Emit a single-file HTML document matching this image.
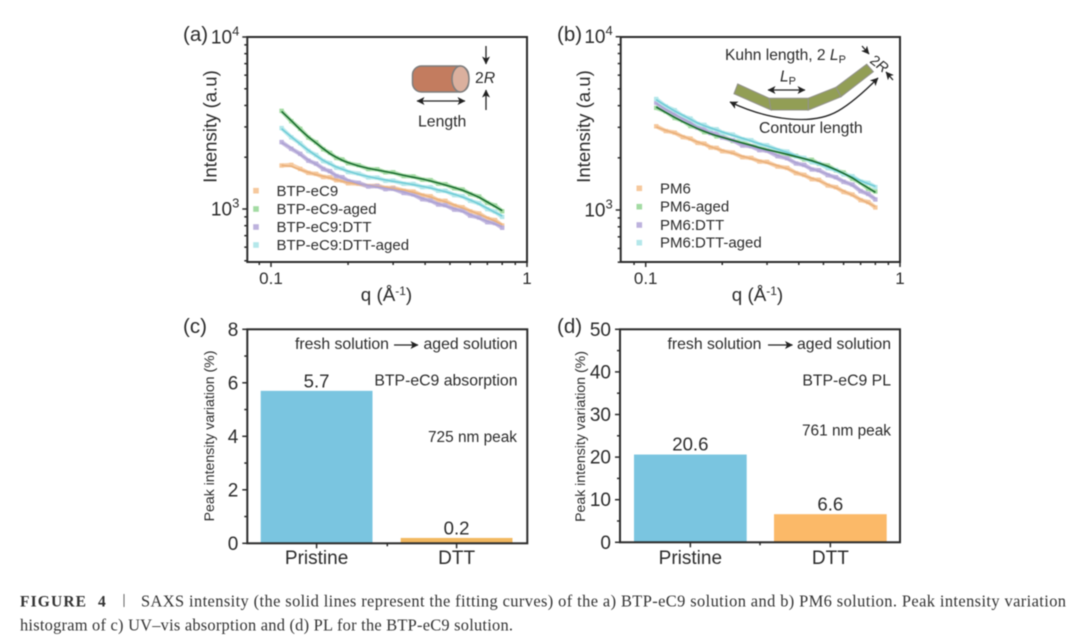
<!DOCTYPE html>
<html lang="en">
<head>
<meta charset="utf-8">
<title>SAXS intensity and peak intensity variation</title>
<style>
html,body{margin:0;padding:0;background:#fff;width:1080px;height:640px;overflow:hidden}
svg{display:block;filter:blur(.45px)}
text{font-family:"Liberation Sans",Arial,sans-serif;fill:#2b2b2b}
.cap{font-family:"Liberation Serif","Times New Roman",serif;font-size:16.4px;fill:#333}
</style>
</head>
<body>
<svg id="figure" width="1080" height="640" viewBox="0 0 1080 640" xmlns="http://www.w3.org/2000/svg">
<defs>
<marker id="ah" markerWidth="9" markerHeight="8" refX="7.5" refY="4" orient="auto-start-reverse" markerUnits="userSpaceOnUse">
<path d="M0,0 L8,4 L0,8 L2,4 Z" fill="#222"/>
</marker>
</defs>
<rect width="1080" height="640" fill="#fff"/>

<g id="panelA">
<text x="183" y="41" font-size="20.5">(a)</text>
<text transform="translate(216.5,126.5) rotate(-90)" text-anchor="middle" font-size="18.6">Intensity (a.u)</text>
<text x="386.5" y="301" text-anchor="middle" font-size="18.8">q (Å<tspan dy="-6" font-size="12">-1</tspan><tspan dy="6">)</tspan></text>
<g font-size="15">
<text x="276.5" y="196">BTP-eC9</text>
<text x="276.5" y="214">BTP-eC9-aged</text>
<text x="276.5" y="232">BTP-eC9:DTT</text>
<text x="276.5" y="250">BTP-eC9:DTT-aged</text>
</g>
<g>
<rect x="412.5" y="66" width="56" height="26" rx="9" fill="#c37c5f" stroke="#7d7d7d" stroke-width="1.5"/>
<ellipse cx="460.5" cy="79" rx="8.5" ry="13" fill="#dbb09e" stroke="#7d7d7d" stroke-width="1.5"/>
<line x1="486" y1="46" x2="486" y2="64" stroke="#222" stroke-width="1.3" marker-end="url(#ah)"/>
<line x1="486" y1="110" x2="486" y2="90" stroke="#222" stroke-width="1.3" marker-end="url(#ah)"/>
<line x1="417" y1="101" x2="465" y2="101" stroke="#222" stroke-width="1.3" marker-start="url(#ah)" marker-end="url(#ah)"/>
<text x="475" y="83" font-size="15.8">2<tspan font-style="italic">R</tspan></text>
<text x="418" y="126.5" font-size="15.8">Length</text>
</g>
</g>

<g id="panelB">
<text x="557" y="41" font-size="20.5">(b)</text>
<text transform="translate(590,126.5) rotate(-90)" text-anchor="middle" font-size="18.6">Intensity (a.u)</text>
<text x="757.5" y="301" text-anchor="middle" font-size="18.8">q (Å<tspan dy="-6" font-size="12">-1</tspan><tspan dy="6">)</tspan></text>
<g font-size="15">
<text x="660" y="193.5">PM6</text>
<text x="660" y="211.5">PM6-aged</text>
<text x="660" y="230">PM6:DTT</text>
<text x="660" y="247.5">PM6:DTT-aged</text>
</g>
<g>
<g fill="#929e55" stroke="#93938a" stroke-width="1.1">
<polygon points="737.7,84 769,98.3 771,110 734,93.7"/>
<polygon points="769,98.3 808.3,98.3 808.3,110 771,110"/>
<polygon points="808.3,98.3 836,87.3 841,96.7 808.3,110"/>
<polygon points="836,87.3 866.7,64.3 873.3,71.7 841,96.7"/>
</g>
<line x1="768" y1="90" x2="805" y2="90" stroke="#222" stroke-width="1.3" marker-start="url(#ah)" marker-end="url(#ah)"/>
<path d="M730,102 C768,120 812,126 838,111 C852,103 866,90 878,78" fill="none" stroke="#222" stroke-width="1.3" marker-start="url(#ah)" marker-end="url(#ah)"/>
<line x1="862" y1="46" x2="869" y2="54" stroke="#222" stroke-width="1.3" marker-end="url(#ah)"/>
<line x1="893" y1="80" x2="886" y2="72" stroke="#222" stroke-width="1.3" marker-end="url(#ah)"/>
<text x="725" y="60" font-size="15.6">Kuhn length, 2 <tspan font-style="italic">L</tspan><tspan dy="3" font-size="11">P</tspan></text>
<text x="780" y="81.5" font-size="15.5"><tspan font-style="italic">L</tspan><tspan dy="3" font-size="11">P</tspan></text>
<text x="759" y="133" font-size="15.8">Contour length</text>
<text transform="translate(869,62) rotate(38)" font-size="14.5">2<tspan font-style="italic">R</tspan></text>
</g>
</g>

<g id="panelC">
<text x="183" y="333" font-size="20.5">(c)</text>
<text transform="translate(214,436) rotate(-90)" text-anchor="middle" font-size="14.1">Peak intensity variation (%)</text>
<text x="295" y="349" font-size="15.8">fresh solution</text>
<line x1="394" y1="345" x2="418" y2="345" stroke="#222" stroke-width="1.3" marker-end="url(#ah)"/>
<text x="517.5" y="349" text-anchor="end" font-size="15.8">aged solution</text>
<text x="517.5" y="385.5" text-anchor="end" font-size="15.8">BTP-eC9 absorption</text>
<text x="517" y="442" text-anchor="end" font-size="15.4">725 nm peak</text>
</g>

<g id="panelD">
<text x="557" y="333" font-size="20.5">(d)</text>
<text transform="translate(585,436.5) rotate(-90)" text-anchor="middle" font-size="14.1">Peak intensity variation (%)</text>
<text x="667.5" y="349" font-size="15.8">fresh solution</text>
<line x1="768" y1="345" x2="792.5" y2="345" stroke="#222" stroke-width="1.3" marker-end="url(#ah)"/>
<text x="891" y="349" text-anchor="end" font-size="15.8">aged solution</text>
<text x="891" y="385.5" text-anchor="end" font-size="15.8">BTP-eC9 PL</text>
<text x="891" y="435.5" text-anchor="end" font-size="15.4">761 nm peak</text>
</g>

<g>
<text class="cap" x="20" y="606.5" font-weight="bold" style="font-size:15.5px" textLength="66" lengthAdjust="spacing">FIGURE</text>
<text class="cap" x="98" y="606.5" font-weight="bold" style="font-size:15.5px">4</text>
<line x1="124" y1="594" x2="124" y2="607" stroke="#666" stroke-width="1"/>
<text class="cap" x="141" y="606.5" textLength="925" lengthAdjust="spacing">SAXS intensity (the solid lines represent the fitting curves) of the a) BTP-eC9 solution and b) PM6 solution. Peak intensity variation</text>
<text class="cap" x="20" y="630.5" textLength="493" lengthAdjust="spacing">histogram of c) UV–vis absorption and (d) PL for the BTP-eC9 solution.</text>
</g>
</svg>

<script>
const qValues = [0.11,0.12,0.13,0.14,0.15,0.16,0.17,0.18,0.19,0.2,0.22,0.24,0.26,0.28,0.3,0.33,0.36,0.39,0.42,0.45,0.48,0.52,0.56,0.6,0.65,0.7,0.75,0.8];

const btpPoints = [1790,1805,1710,1622,1600,1535,1528,1470,1462,1410,1402,1360,1368,1325,1330,1278,1262,1200,1186,1122,1115,1045,1024,968,942,880,862,802];
const btpFit = [1794,1770,1693,1634,1583,1549,1514,1481,1448,1423,1391,1373,1354,1337,1319,1290,1250,1211,1174,1133,1103,1055,1013,978,931,890,852,811];
const btpAgedPoints = [3720,3240,2925,2600,2440,2225,2120,1980,1940,1845,1795,1708,1702,1635,1635,1556,1545,1482,1472,1404,1393,1320,1298,1222,1182,1088,1048,970];
const btpAgedFit = [3696,3262,2893,2622,2419,2242,2097,1997,1918,1860,1778,1723,1685,1649,1619,1569,1528,1494,1455,1416,1379,1331,1284,1233,1169,1098,1036,978];
const btpDttPoints = [2450,2240,2092,1910,1835,1708,1658,1555,1530,1452,1418,1352,1358,1305,1310,1240,1215,1140,1120,1062,1053,992,980,916,892,838,828,778];
const btpDttFit = [2430,2263,2070,1927,1818,1723,1641,1569,1514,1468,1404,1367,1342,1319,1296,1255,1201,1153,1108,1074,1041,1004,969,927,882,848,818,789];
const btpDttAgedPoints = [2955,2610,2410,2175,2060,1900,1845,1738,1718,1640,1606,1526,1522,1460,1462,1402,1398,1340,1338,1276,1274,1204,1186,1116,1080,998,966,900];
const btpDttAgedFit = [2931,2633,2387,2194,2042,1918,1826,1755,1701,1656,1590,1542,1507,1474,1448,1416,1385,1354,1325,1290,1261,1217,1174,1128,1069,1009,956,911];

const pm6Points = [3040,2855,2795,2635,2582,2440,2415,2295,2282,2185,2145,2018,1998,1905,1895,1782,1750,1632,1594,1506,1492,1385,1353,1272,1228,1140,1110,1034];
const pm6Fit = [3013,2881,2769,2661,2556,2468,2392,2320,2259,2209,2123,2040,1978,1926,1875,1802,1732,1649,1578,1523,1476,1400,1339,1287,1215,1152,1098,1045];
const pm6AgedPoints = [3885,3700,3395,3270,3050,2980,2815,2790,2660,2655,2500,2462,2338,2315,2208,2185,2075,2054,1958,1948,1848,1806,1692,1645,1515,1440,1326,1278];
const pm6AgedFit = [3928,3659,3424,3233,3080,2946,2843,2757,2685,2626,2523,2435,2361,2289,2229,2161,2095,2031,1978,1926,1867,1786,1709,1627,1530,1425,1339,1265];
const pm6DttPoints = [4165,3770,3585,3330,3208,2980,2925,2775,2748,2620,2526,2356,2332,2215,2202,2045,1989,1855,1820,1714,1696,1589,1545,1454,1402,1285,1238,1150];
const pm6DttFit = [4125,3809,3548,3365,3175,3013,2894,2806,2720,2649,2501,2382,2308,2239,2180,2067,1969,1875,1802,1732,1679,1606,1530,1470,1388,1299,1226,1163];
const pm6DttAgedPoints = [4370,3960,3765,3480,3370,3140,3098,2940,2924,2788,2724,2562,2527,2388,2362,2215,2173,2036,1998,1888,1860,1744,1703,1604,1566,1460,1433,1355];
const pm6DttAgedFit = [4329,3999,3726,3517,3336,3175,3066,2972,2894,2818,2696,2591,2501,2413,2339,2239,2151,2058,1978,1909,1842,1763,1686,1621,1550,1476,1419,1369];

const logXMajorTicks = [0.1,1];
const logXMinorTicks = [0.09,0.2,0.3,0.4,0.5,0.6,0.7,0.8,0.9];
const logYMajorTicks = [1000,10000];
const logYMinorTicks = [500,600,700,800,900,2000,3000,4000,5000,6000,7000,8000,9000];

const barCategories = ['Pristine','DTT'];
const absorptionValues = [5.7,0.2];
const absorptionLabels = ['5.7','0.2'];
const plValues = [20.6,6.6];
const plLabels = ['20.6','6.6'];
const absorptionMajorTicks = [0,2,4,6,8];
const absorptionMinorTicks = [1,3,5,7];
const plMajorTicks = [0,10,20,30,40,50];
const plMinorTicks = [5,15,25,35,45];

const NS = 'http://www.w3.org/2000/svg';
const INK = '#2b2b2b';
function add(parent, tag, attrs, text) {
  const el = document.createElementNS(NS, tag);
  for (const k in attrs) el.setAttribute(k, attrs[k]);
  if (text !== undefined) el.textContent = text;
  parent.appendChild(el);
  return el;
}

function drawFrame(g, name, box) {
  const el = add(g, 'rect', {x: box.l, y: box.t, width: box.r - box.l, height: box.b - box.t, fill: 'none', stroke: INK, 'stroke-width': 2});
  
  
}
function drawTick(g, name, x1, y1, x2, y2) {
  const el = add(g, 'line', {x1: x1, y1: y1, x2: x2, y2: y2, stroke: INK, 'stroke-width': 1.5});
  
  
}

function drawLogPanel(g, name, box, x0, xDecade, y0, yDecade, series, legendX, legendYs) {
  const xScale = q => x0 + xDecade * Math.log10(q / 0.1);
  const yScale = v => y0 - yDecade * Math.log10(v / 1000);

  series.forEach(s => {
    const band = add(g, 'polyline', {points: qValues.map((q, i) => xScale(q).toFixed(1) + ',' + yScale(s.points[i]).toFixed(1)).join(' '), fill: 'none', stroke: s.markerColor, 'stroke-width': 4.2, opacity: .85});
    
    
    qValues.forEach((q, i) => {
      const m = add(g, 'rect', {x: xScale(q) - 2.2, y: yScale(s.points[i]) - 2.2, width: 4.4, height: 4.4, fill: s.markerColor});
      
      
    });
  });
  series.slice().sort((a, b) => a.fitOrder - b.fitOrder).forEach(s => {
    const fit = add(g, 'polyline', {points: qValues.map((q, i) => xScale(q).toFixed(1) + ',' + yScale(s.fit[i]).toFixed(1)).join(' '), fill: 'none', stroke: s.fitColor, 'stroke-width': 1.6});
    
    
  });

  series.forEach((s, i) => {
    const lm = add(g, 'rect', {x: legendX - 2.8, y: legendYs[i] - 2.8, width: 5.6, height: 5.6, fill: s.markerColor});
    
    
  });

  drawFrame(g, name, box);

  logXMajorTicks.forEach(q => {
    drawTick(g, name + '-x-major-tick', xScale(q), box.b, xScale(q), box.b + 5);
    const t = add(g, 'text', {x: xScale(q), y: 284, 'text-anchor': 'middle', 'font-size': 17}, String(q));
    
    
  });
  logXMinorTicks.forEach(q => drawTick(g, name + '-x-minor-tick', xScale(q), box.b, xScale(q), box.b + 3));
  logYMajorTicks.forEach(v => {
    drawTick(g, name + '-y-major-tick', box.l, yScale(v), box.l - 5, yScale(v));
    const t = add(g, 'text', {x: box.l - 8, y: yScale(v) + 6.5, 'text-anchor': 'end', 'font-size': 19}, '10');
    
    
    add(t, 'tspan', {dy: -8, 'font-size': 13}, String(Math.round(Math.log10(v))));
  });
  logYMinorTicks.forEach(v => drawTick(g, name + '-y-minor-tick', box.l, yScale(v), box.l - 3, yScale(v)));
}

function drawBarPanel(g, name, box, maxValue, values, labels, majors, minors, colors, barLefts, barWidth, labelBaselineGap) {
  const yScale = v => box.b - (box.b - box.t) * v / maxValue;
  values.forEach((v, i) => {
    const bar = add(g, 'rect', {x: barLefts[i], y: yScale(v), width: barWidth, height: box.b - yScale(v), fill: colors[i]});
    
    
    const cx = barLefts[i] + barWidth / 2;
    const val = add(g, 'text', {x: cx, y: yScale(v) - labelBaselineGap, 'text-anchor': 'middle', 'font-size': 18.6}, labels[i]);
    
    
    const cat = add(g, 'text', {x: cx, y: 564, 'text-anchor': 'middle', 'font-size': 19}, barCategories[i]);
    
    
    drawTick(g, name + '-x-major-tick', cx, box.b, cx, box.b + 5);
  });
  drawTick(g, name + '-x-minor-tick', (box.l + box.r) / 2, box.b, (box.l + box.r) / 2, box.b + 3);
  drawFrame(g, name, box);
  majors.forEach(v => {
    drawTick(g, name + '-y-major-tick', box.l, yScale(v), box.l - 5, yScale(v));
    const t = add(g, 'text', {x: box.l - 9, y: yScale(v) + 6.5, 'text-anchor': 'end', 'font-size': 19}, String(v));
    
    
  });
  minors.forEach(v => drawTick(g, name + '-y-minor-tick', box.l, yScale(v), box.l - 3, yScale(v)));
}

const panelASeries = [
  {id:'btp-ec9', points:btpPoints, fit:btpFit, markerColor:'#f6c89c', fitColor:'#eab07a', fitOrder:0},
  {id:'btp-ec9-aged', points:btpAgedPoints, fit:btpAgedFit, markerColor:'#a3dba3', fitColor:'#1b6c30', fitOrder:3},
  {id:'btp-ec9-dtt', points:btpDttPoints, fit:btpDttFit, markerColor:'#bdb2dd', fitColor:'#ada2d3', fitOrder:1},
  {id:'btp-ec9-dtt-aged', points:btpDttAgedPoints, fit:btpDttAgedFit, markerColor:'#b4e7ea', fitColor:'#70ccd7', fitOrder:2}
];
const panelBSeries = [
  {id:'pm6', points:pm6Points, fit:pm6Fit, markerColor:'#f6c89c', fitColor:'#eab07a', fitOrder:0},
  {id:'pm6-aged', points:pm6AgedPoints, fit:pm6AgedFit, markerColor:'#a3dba3', fitColor:'#1b6c30', fitOrder:3},
  {id:'pm6-dtt', points:pm6DttPoints, fit:pm6DttFit, markerColor:'#bdb2dd', fitColor:'#ada2d3', fitOrder:1},
  {id:'pm6-dtt-aged', points:pm6DttAgedPoints, fit:pm6DttAgedFit, markerColor:'#b4e7ea', fitColor:'#70ccd7', fitOrder:2}
];

drawLogPanel(document.getElementById('panelA'), 'panel-a', {l:247.3,r:527,t:37,b:262}, 271, 256, 209, 172, panelASeries, 256, [190.7,209,227,245]);
drawLogPanel(document.getElementById('panelB'), 'panel-b', {l:620.7,r:900,t:37,b:262}, 645.7, 254.3, 210, 173.3, panelBSeries, 639.3, [188.3,206.7,225,242.7]);
drawBarPanel(document.getElementById('panelC'), 'panel-c', {l:247.3,r:527.3,t:329.3,b:543.3}, 8, absorptionValues, absorptionLabels, absorptionMajorTicks, absorptionMinorTicks, ['#7ac5e0','#f2b860'], [260.7,400.7], 111.8, 3.5);
drawBarPanel(document.getElementById('panelD'), 'panel-d', {l:620,r:900,t:329.3,b:542.3}, 50, plValues, plLabels, plMajorTicks, plMinorTicks, ['#7ac5e0','#fbb968'], [634,774], 112.7, 3.8);
</script>
</body>
</html>
